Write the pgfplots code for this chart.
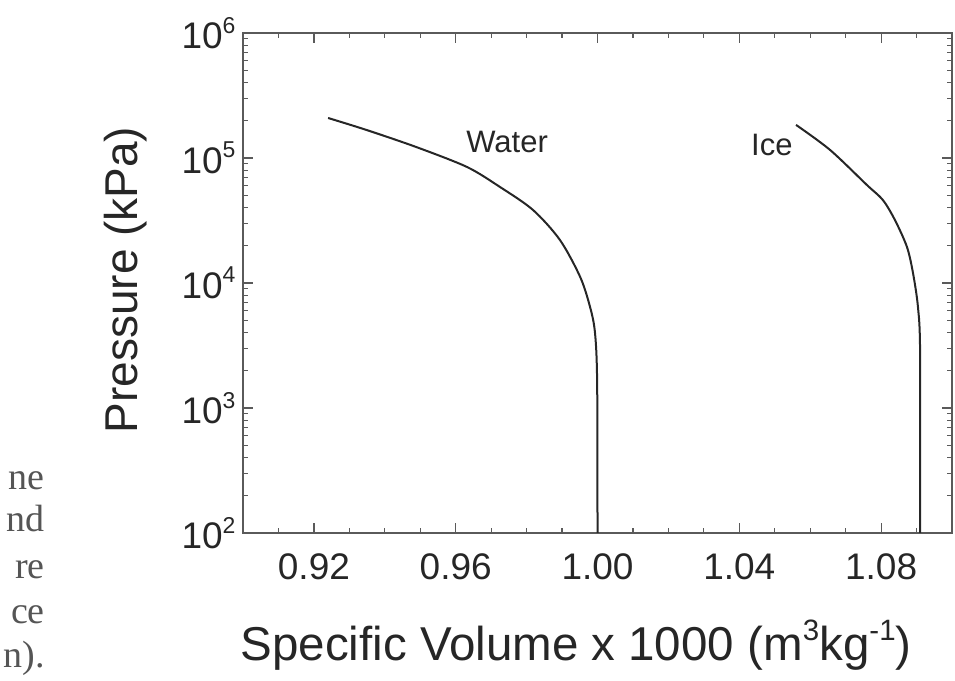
\documentclass[border=0pt]{standalone}
\usepackage{fontspec}
\setmainfont{Liberation Sans}
\newfontfamily\seriffont{Liberation Serif}
\usepackage{pgfplots}
\pgfplotsset{compat=1.18}
\definecolor{ink}{HTML}{262626}
\definecolor{axisgray}{HTML}{5A5A5A}
\definecolor{fraggray}{HTML}{555555}
\newcommand{\sups}[1]{\raisebox{0.42em}{\scalebox{0.62}{#1}}}

\pgfplotstableread{
x y
0.9240 209000
0.9350 167000
0.9490 122000
0.9632 84700
0.9725 58600
0.9818 38400
0.9894 22100
0.9951 11200
0.9979 6430
0.9993 3980
0.9999 1580
1.0000 100
}\water

\pgfplotstableread{
x y
1.0560 184000
1.0656 116000
1.0760 60800
1.0805 46100
1.0839 31900
1.0873 19400
1.0890 12000
1.0904 6400
1.0910 2750
1.0910 100
}\ice

\begin{document}
\begin{tikzpicture}[x=1pt,y=1pt]
\path[use as bounding box] (0,0) rectangle (955,680);
\begin{axis}[
  at={(243pt,147pt)}, anchor=south west,
  scale only axis, width=709pt, height=500pt,
  xmin=0.90, xmax=1.10,
  ymode=log, ymin=100, ymax=1e6,
  xtick={0.92,0.96,1.00,1.04,1.08},
  xticklabels={0.92,0.96,1.00,1.04,1.08},
  minor xtick={0.91,0.93,0.94,0.95,0.97,0.98,0.99,1.01,1.02,1.03,1.05,1.06,1.07,1.09},
  ytick={1e2,1e3,1e4,1e5,1e6},
  yticklabels={10\sups{2},10\sups{3},10\sups{4},10\sups{5},10\sups{6}},
  minor ytick={200,300,400,500,600,700,800,900,2000,3000,4000,5000,6000,7000,8000,9000,20000,30000,40000,50000,60000,70000,80000,90000,200000,300000,400000,500000,600000,700000,800000,900000},
  tick align=inside,
  major tick length=10pt, minor tick length=5pt,
  axis line style={axisgray, line width=2.2pt},
  every tick/.style={axisgray, line width=1.2pt},
  ticklabel style={font=\fontsize{37}{40}\selectfont, text=ink},
  xticklabel style={yshift=-17pt},
  yticklabel style={xshift=-4pt},
  clip=false,
]
\addplot[ink, line width=2pt, smooth, tension=0.5] table {\water};
\addplot[ink, line width=2pt, smooth, tension=0.5] table {\ice};
\node[font=\fontsize{31}{34}\selectfont, text=ink] at (axis cs:0.9745,134000) {Water};
\node[font=\fontsize{31}{34}\selectfont, text=ink] at (axis cs:1.0492,127000) {Ice};
\end{axis}
\node[anchor=base, font=\fontsize{47.5}{50}\selectfont, text=ink] at (576,20) {Specific Volume x 1000 (m\sups{3}kg\sups{-1})};
\node[anchor=base, rotate=90, font=\fontsize{46}{50}\selectfont, text=ink] at (137,400) {Pressure (kPa)};
\begin{scope}[every node/.style={anchor=base east, font=\seriffont\fontsize{38}{40}\selectfont, text=fraggray, inner sep=0pt}]
\node at (45,190) {ne};
\node at (45,148) {nd};
\node at (45,102) {re};
\node at (45,57) {ce};
\node at (45,13) {n).};
\end{scope}
\end{tikzpicture}
\end{document}
